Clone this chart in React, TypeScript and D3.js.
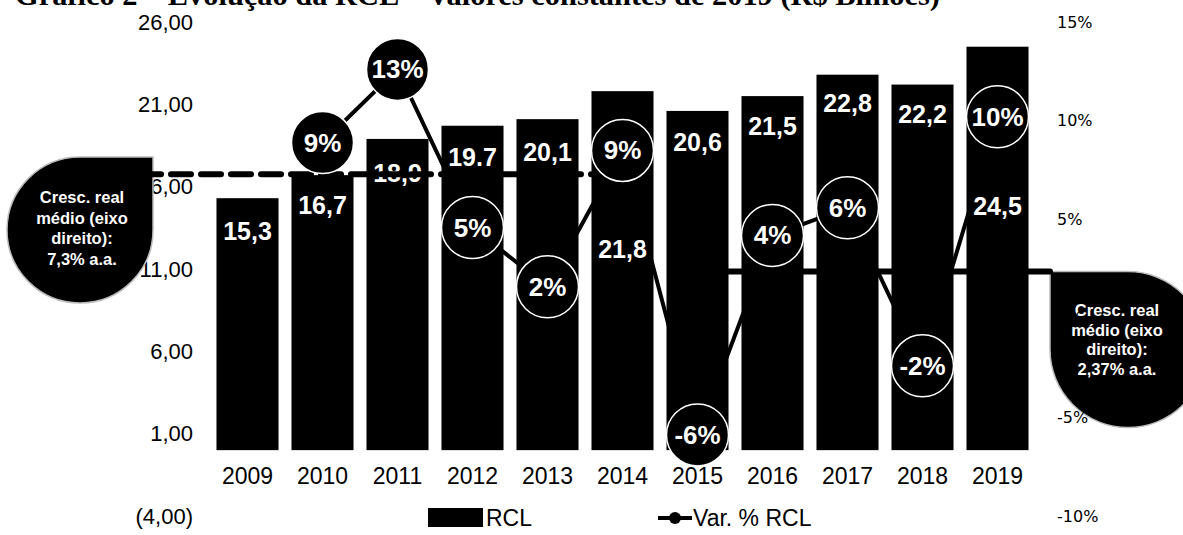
import React from 'react';
import * as d3 from 'd3';

const years = ['2009', '2010', '2011', '2012', '2013', '2014', '2015', '2016', '2017', '2018', '2019'];
const rcl = [15.3, 16.7, 18.9, 19.7, 20.1, 21.8, 20.6, 21.5, 22.8, 22.2, 24.5];
const rclLabels = ['15,3', '16,7', '18,9', '19.7', '20,1', '21,8', '20,6', '21,5', '22,8', '22,2', '24,5'];
// where each bar's value label sits (in left-axis units)
const rclLabelAt = [13.3, 14.9, 16.8, 17.8, 18.1, 12.2, 18.7, 19.7, 21.1, 20.4, 14.8];
const varPct: (number | null)[] = [null, 8.9, 12.6, 4.6, 1.6, 8.5, -5.9, 4.2, 5.6, -2.4, 10.2];
const leftTicks = [-4, 1, 6, 11, 16, 21, 26];
const rightTicks = [-10, -5, 0, 5, 10, 15];
const avgLeftValue = 7.3;
const avgLeftText = ['Cresc. real', 'médio (eixo', 'direito):', '7,3% a.a.'];
const avgRightValue = 2.37;
const avgRightText = ['Cresc. real', 'médio (eixo', 'direito):', '2,37% a.a.'];
const title = 'Gráfico 2 – Evolução da RCL – Valores constantes de 2019 (R$ Bilhões)';

const W = 1183;
const H = 535;
const SANS = '"Liberation Sans", Arial, sans-serif';

export default function App() {
  const x = d3.scaleBand<string>().domain(years).range([210, 1035]).paddingInner(0.173).paddingOuter(0.0865);
  const yL = d3.scaleLinear().domain([-4, 26]).range([516, 22]);
  const yR = d3.scaleLinear().domain([-10, 15]).range([516, 22]);
  const bw = x.bandwidth();
  const cx = (y: string) => (x(y) as number) + bw / 2;

  const pts = years
    .map((yr, i) => ({ yr, v: varPct[i] }))
    .filter((d) => d.v !== null) as { yr: string; v: number }[];
  const line = d3
    .line<{ yr: string; v: number }>()
    .x((d) => cx(d.yr))
    .y((d) => yR(d.v));

  const fmtL = (v: number) => {
    const s = Math.abs(v).toFixed(2).replace('.', ',');
    return v < 0 ? `(${s})` : s;
  };

  // teardrop bubbles
  const lb = { cx: 80, cy: 230, r: 73 };
  const leftPath = `M${lb.cx},${lb.cy - lb.r} L${lb.cx + lb.r},${lb.cy - lb.r} L${lb.cx + lb.r},${lb.cy} A${lb.r},${lb.r} 0 1 1 ${lb.cx},${lb.cy - lb.r} Z`;
  const rb = { cx: 1128, cy: yR(avgRightValue) + 78, r: 78 };
  const rightPath = `M${rb.cx - rb.r},${rb.cy} L${rb.cx - rb.r},${rb.cy - rb.r} L${rb.cx},${rb.cy - rb.r} A${rb.r},${rb.r} 0 1 1 ${rb.cx - rb.r},${rb.cy} Z`;

  const yAvgL = yR(avgLeftValue);
  const yAvgR = yR(avgRightValue);

  return (
    <svg width={W} height={H} style={{ position: 'absolute', left: 0, top: 0, background: '#fff' }}>
      <text x={15} y={5} fontFamily='"Liberation Serif", "Times New Roman", serif' fontWeight="bold" fontSize={30} textLength={925} lengthAdjust="spacingAndGlyphs" fill="#000">
        {title}
      </text>

      {/* left axis labels */}
      {leftTicks.map((t) => (
        <text key={t} x={193} y={yL(t)} textAnchor="end" dominantBaseline="central" fontFamily={SANS} fontSize={22} fill="#000">
          {fmtL(t)}
        </text>
      ))}

      {/* bars */}
      {years.map((yr, i) => (
        <rect key={yr} x={x(yr)} y={yL(rcl[i])} width={bw} height={yL(0) - yL(rcl[i])} fill="#000" />
      ))}
      {years.map((yr, i) => (
        <text key={'bl' + yr} x={cx(yr)} y={yL(rclLabelAt[i])} textAnchor="middle" dominantBaseline="central" fontFamily={SANS} fontWeight="bold" fontSize={25} fill="#fff">
          {rclLabels[i]}
        </text>
      ))}

      {/* year labels */}
      {years.map((yr) => (
        <text key={'x' + yr} x={cx(yr)} y={476} textAnchor="middle" dominantBaseline="central" fontFamily={SANS} fontSize={23} fill="#000">
          {yr}
        </text>
      ))}

      {/* average growth bubbles */}
      <path d={leftPath} fill="#000" stroke="#bbb" strokeWidth={1.5} />
      {avgLeftText.map((t, i) => (
        <text key={'lt' + i} x={lb.cx + 2} y={197 + i * 20.5} textAnchor="middle" dominantBaseline="central" fontFamily={SANS} fontWeight="bold" fontSize={16.5} fill="#fff">
          {t}
        </text>
      ))}
      <path d={rightPath} fill="#000" stroke="#bbb" strokeWidth={1.5} />
      {avgRightText.map((t, i) => (
        <text key={'rt' + i} x={rb.cx - 11} y={310 + i * 19.5} textAnchor="middle" dominantBaseline="central" fontFamily={SANS} fontWeight="bold" fontSize={16.5} fill="#fff">
          {t}
        </text>
      ))}

      {/* right axis labels (0% is hidden by the bubble) */}
      {rightTicks.map((t) => (
        <text key={t} x={1057} y={yR(t)} dominantBaseline="central" fontFamily='"DejaVu Sans", Verdana, sans-serif' fontSize={16} fill="#000">
          {`${t}%`}
        </text>
      ))}

      {/* average lines */}
      <line x1={lb.cx + lb.r - 12} x2={x('2014') as number} y1={yAvgL} y2={yAvgL} stroke="#000" strokeWidth={6} strokeDasharray="20 10" strokeLinecap="round" />
      <line x1={(x('2015') as number) + bw} x2={rb.cx - rb.r} y1={yAvgR} y2={yAvgR} stroke="#000" strokeWidth={6} strokeLinecap="round" />

      {/* variation line */}
      <path d={line(pts) as string} fill="none" stroke="#000" strokeWidth={4} />
      {pts.map((d) => (
        <g key={'p' + d.yr}>
          <circle cx={cx(d.yr)} cy={yR(d.v)} r={31} fill="#000" stroke="#fff" strokeWidth={1.5} />
          <text x={cx(d.yr)} y={yR(d.v)} textAnchor="middle" dominantBaseline="central" fontFamily={SANS} fontWeight="bold" fontSize={26} fill="#fff">
            {`${Math.round(d.v)}%`}
          </text>
        </g>
      ))}

      {/* legend */}
      <rect x={428} y={508} width={55} height={19} fill="#000" />
      <text x={486} y={518} dominantBaseline="central" fontFamily={SANS} fontSize={23} fill="#000">RCL</text>
      <line x1={658} x2={692} y1={518} y2={518} stroke="#000" strokeWidth={4} />
      <circle cx={675} cy={518} r={6} fill="#000" />
      <text x={693} y={518} dominantBaseline="central" fontFamily={SANS} fontSize={23} fill="#000">Var. % RCL</text>
    </svg>
  );
}
